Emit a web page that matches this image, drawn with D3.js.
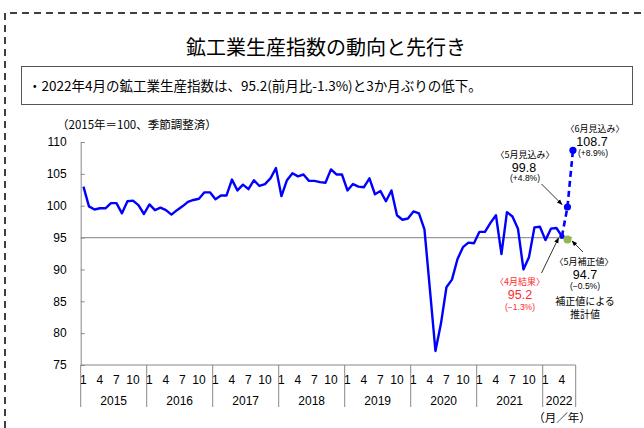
<!DOCTYPE html>
<html><head><meta charset="utf-8">
<script src="https://cdn.jsdelivr.net/npm/d3@7"></script>
<style>
body{margin:0;background:#fff;}
svg{display:block;}
text{font-family:"Liberation Sans","Noto Sans CJK JP",sans-serif;}
.jp{font-family:"Noto Sans CJK JP",sans-serif;}
</style>
</head><body>
<svg id="c" width="644" height="428"></svg>
<script>
// ---- data ----
const years = ["2015","2016","2017","2018","2019","2020","2021","2022"];
const monthsPerYear = [12,12,12,12,12,12,12,6];
const monthTickLabels = [1,4,7,10];
const yTicks = [75,80,85,90,95,100,105,110];
const v2015 = [103.0, 99.9, 99.4, 99.6, 99.6, 100.4, 100.4, 98.8, 100.7, 100.8, 100.1, 98.7];
const v2016 = [100.2, 99.3, 99.7, 99.3, 98.6, 99.3, 99.9, 100.6, 100.9, 101.1, 102.1, 102.1];
const v2017 = [101.0, 101.6, 101.6, 104.1, 102.4, 103.3, 102.6, 104.0, 103.1, 103.4, 104.3, 105.9];
const v2018 = [101.5, 104.0, 105.1, 104.6, 104.9, 103.9, 103.9, 103.7, 103.6, 105.7, 104.9, 104.9];
const v2019 = [102.4, 103.4, 103.0, 102.9, 104.3, 101.8, 102.3, 100.7, 102.4, 98.5, 97.8, 98.0];
const v2020 = [99.1, 98.8, 96.3, 86.8, 77.2, 81.5, 87.2, 88.4, 91.6, 93.5, 94.2, 94.1];
const v2021 = [95.9, 95.9, 97.3, 98.5, 92.4, 99.0, 98.3, 96.4, 90.0, 91.9, 96.6, 96.7];
const v2022 = [94.6, 96.4, 96.5, 95.2];
const forecastMonths = ["2022-4","2022-5","2022-6"];
const forecastValues = [95.2, 99.8, 108.7];
const correctedMonth = "2022-5";
const correctedValue = 94.7;
const refValue = 95;

// ---- build ----
const categories = [];
years.forEach((yr,i)=>{ for(let m=1;m<=monthsPerYear[i];m++) categories.push(yr+"-"+m); });
const actualValues = [].concat(v2015,v2016,v2017,v2018,v2019,v2020,v2021,v2022);
const actual = actualValues.map((v,i)=>({c:categories[i], v}));
const forecast = forecastMonths.map((c,i)=>({c, v:forecastValues[i]}));

const svg = d3.select("#c");
const X0 = 80.7, X1 = 575.7, Y0 = 365, Y1 = 142;
const x = d3.scaleBand().domain(categories).range([X0, X1]).padding(0);
const cx = c => x(c) + x.bandwidth()/2;
const y = d3.scaleLinear().domain([75,110]).range([Y0, Y1]);

// outer dashed frame
svg.append("path").attr("d","M5,428V13H644").attr("fill","none")
  .attr("stroke","#000").attr("stroke-width",1.5).attr("stroke-dasharray","7,5");

// title
svg.append("text").attr("class","jp").attr("x",326).attr("y",46)
  .attr("text-anchor","middle").attr("dominant-baseline","central")
  .attr("font-size",20).text("鉱工業生産指数の動向と先行き");

// summary box
svg.append("rect").attr("x",21.5).attr("y",66.5).attr("width",611).attr("height",38)
  .attr("fill","#fff").attr("stroke","#555").attr("stroke-width",1);
svg.append("text").attr("class","jp").attr("x",28).attr("y",85)
  .attr("dominant-baseline","central").attr("font-size",13.5)
  .text("・2022年4月の鉱工業生産指数は、95.2(前月比-1.3%)と3か月ぶりの低下。");

// unit label
svg.append("text").attr("class","jp").attr("x",57).attr("y",124)
  .attr("dominant-baseline","central").attr("font-size",11.5)
  .text("（2015年＝100、季節調整済）");

// y axis
const yAxis = svg.append("g").attr("transform",`translate(${X0},0)`)
  .call(d3.axisLeft(y).tickValues(yTicks).tickSizeInner(-4).tickSizeOuter(0).tickPadding(14));
yAxis.select(".domain").attr("stroke","#888");
yAxis.selectAll(".tick line").attr("stroke","#888");
yAxis.selectAll(".tick text").attr("font-size",12).attr("font-family","Liberation Sans").style("fill","#000");

// x axis line
svg.append("line").attr("x1",X0).attr("x2",X1).attr("y1",Y0).attr("y2",Y0)
  .attr("stroke","#888");
// year separators
const sepX = years.map(yr=>x(yr+"-1")).concat([X1]);
svg.selectAll(".sep").data(sepX).enter().append("line")
  .attr("x1",d=>d).attr("x2",d=>d).attr("y1",Y0).attr("y2",407)
  .attr("stroke","#888");
// month labels
const monthCats = categories.filter(c=>monthTickLabels.includes(+c.split("-")[1]));
svg.selectAll(".ml").data(monthCats).enter().append("text")
  .attr("x",c=>cx(c)).attr("y",380).attr("text-anchor","middle")
  .attr("dominant-baseline","central").attr("font-size",12)
  .text(c=>c.split("-")[1]);
// year labels
svg.selectAll(".yl").data(years).enter().append("text")
  .attr("x",(yr,i)=>(sepX[i]+sepX[i+1])/2).attr("y",401).attr("text-anchor","middle")
  .attr("dominant-baseline","central").attr("font-size",12).text(d=>d);
svg.append("text").attr("class","jp").attr("x",562).attr("y",417)
  .attr("text-anchor","middle").attr("dominant-baseline","central")
  .attr("font-size",11.5).text("（月／年）");

// reference line at 95
svg.append("line").attr("x1",X0).attr("x2",572).attr("y1",y(refValue)).attr("y2",y(refValue))
  .attr("stroke","#999").attr("stroke-width",1.2);

// actual line
svg.append("path").datum(actual).attr("fill","none").attr("stroke","#0000ff")
  .attr("stroke-width",2.4).attr("stroke-linejoin","round")
  .attr("d",d3.line().x(d=>cx(d.c)).y(d=>y(d.v)));

// forecast dashed
svg.append("path").datum(forecast).attr("fill","none").attr("stroke","#0000ff")
  .attr("stroke-width",2.6).attr("stroke-dasharray","6,4")
  .attr("d",d3.line().x(d=>cx(d.c)).y(d=>y(d.v)));
svg.selectAll(".fp").data(forecast.slice(1)).enter().append("circle")
  .attr("cx",d=>cx(d.c)).attr("cy",d=>y(d.v)).attr("r",3.6).attr("fill","#0000ff");
svg.append("circle").attr("cx",cx(forecastMonths[0])).attr("cy",y(forecastValues[0]))
  .attr("r",2.6).attr("fill","#0000ff");
// corrected
svg.append("circle").attr("cx",cx(correctedMonth)).attr("cy",y(correctedValue))
  .attr("r",4).attr("fill","#92b650");

// arrows
const defs = svg.append("defs");
defs.append("marker").attr("id","ah").attr("viewBox","0 0 10 10").attr("refX",9).attr("refY",5)
  .attr("markerWidth",7).attr("markerHeight",7).attr("orient","auto")
  .append("path").attr("d","M0,1L10,5L0,9Z").attr("fill","#000");
function arrow(x1,y1,x2,y2){
  svg.append("line").attr("x1",x1).attr("y1",y1).attr("x2",x2).attr("y2",y2)
    .attr("stroke","#000").attr("stroke-width",0.8).attr("marker-end","url(#ah)");
}
arrow(541.5,184,562,204.5);
arrow(583,252,572,241);
arrow(541.5,273,558.5,238);

// annotations
function label(xp,yp,txt,size,color,cls){
  svg.append("text").attr("class",cls||null).attr("x",xp).attr("y",yp)
    .attr("text-anchor","middle").attr("dominant-baseline","central")
    .attr("font-size",size).style("fill",color||"#000").text(txt);
}
const red = "#ff2a2a";
label(595,128,"〈6月見込み〉",9,null,"jp");
label(592,141.5,"108.7",12.5);
label(593,152.5,"(+8.9%)",8.5);
label(525,154.5,"〈5月見込み〉",9,null,"jp");
label(524,167.5,"99.8",12.5);
label(525,178,"(+4.8%)",8.5);
label(520,281.5,"〈4月結果〉",9,red,"jp");
label(520,295,"95.2",12.5,red);
label(520,306.5,"(−1.3%)",8.5,red);
label(584,261,"〈5月補正値〉",9,null,"jp");
label(585,274.5,"94.7",12.5);
label(585,286,"(−0.5%)",8.5);
label(585,300,"補正値による",10,null,"jp");
label(585,313.5,"推計値",10,null,"jp");
</script>
</body></html>
